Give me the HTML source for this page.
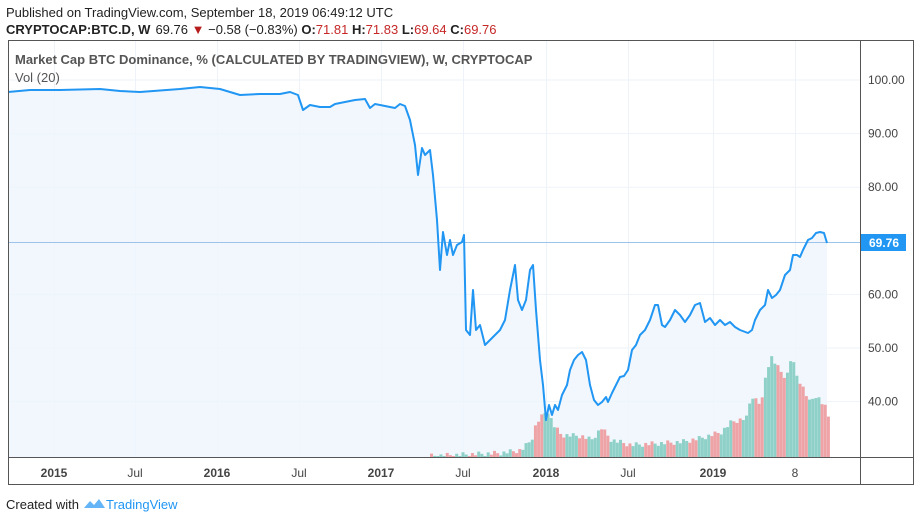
<!DOCTYPE html><html><head><style>
body{margin:0;background:#fff;font-family:"Liberation Sans",sans-serif;}
</style></head><body>
<svg width="920" height="522" xmlns="http://www.w3.org/2000/svg" font-family="Liberation Sans, sans-serif">
<rect width="920" height="522" fill="#fff"/>
<text x="6" y="17" font-size="13" fill="#222">Published on TradingView.com, September 18, 2019 06:49:12 UTC</text>
<text x="6" y="34" font-size="13" fill="#222"><tspan font-weight="bold">CRYPTOCAP:BTC.D, W</tspan><tspan dx="5">69.76</tspan><tspan fill="#b71c1c"> ▼</tspan><tspan> −0.58 (−0.83%) </tspan><tspan font-weight="bold">O:</tspan><tspan fill="#c62828">71.81 </tspan><tspan font-weight="bold">H:</tspan><tspan fill="#c62828">71.83 </tspan><tspan font-weight="bold">L:</tspan><tspan fill="#c62828">69.64 </tspan><tspan font-weight="bold">C:</tspan><tspan fill="#c62828">69.76</tspan></text>
<g stroke="#eef3f9" stroke-width="1" id="grid"></g>
<path id="fill" fill="#eef5fd" opacity="0.8"/>
<g id="vol"></g>
<line x1="8" x2="860" y1="242.5" y2="242.5" stroke="#9cc3ea" stroke-width="1"/>
<polyline id="line" fill="none" stroke="#2196f3" stroke-width="2" stroke-linejoin="round"/>
<rect x="8.5" y="40.5" width="905" height="444" fill="none" stroke="#555" stroke-width="1"/>
<line x1="860.5" x2="860.5" y1="40" y2="485" stroke="#555"/>
<line x1="8" x2="914" y1="457.5" y2="457.5" stroke="#555"/>
<text x="15" y="64" font-size="13" fill="#555" font-weight="bold">Market Cap BTC Dominance, % (CALCULATED BY TRADINGVIEW), W, CRYPTOCAP</text>
<text x="15" y="82" font-size="13" fill="#555">Vol (20)</text>
<g font-size="12" fill="#444" id="yl"></g>
<rect x="861" y="234" width="45" height="17" fill="#2196f3"/>
<text x="869" y="247" font-size="12" fill="#fff" font-weight="bold">69.76</text>
<g font-size="12" fill="#444" text-anchor="middle">
<text x="54" y="477" font-weight="bold">2015</text><text x="135" y="477">Jul</text>
<text x="217" y="477" font-weight="bold">2016</text><text x="299" y="477">Jul</text>
<text x="381" y="477" font-weight="bold">2017</text><text x="463" y="477">Jul</text>
<text x="546" y="477" font-weight="bold">2018</text><text x="628" y="477">Jul</text>
<text x="713" y="477" font-weight="bold">2019</text><text x="795" y="477">8</text>
</g>
<text x="6" y="509" font-size="13" fill="#222">Created with</text>
<path d="M84 508 l6 -7 l4 4 l5 -6 l6 9 z" fill="#2196f3" opacity="0.7"/>
<text x="106" y="509" font-size="13" fill="#2196f3">TradingView</text>
</svg>
<script>
var ns="http://www.w3.org/2000/svg";
function el(t,a,p){var e=document.createElementNS(ns,t);for(var k in a)e.setAttribute(k,a[k]);document.getElementById(p).appendChild(e);return e;}
[54,135,217,299,381,463,546,628,713,795].forEach(function(x){el("line",{x1:x+.5,x2:x+.5,y1:41,y2:457},"grid");});
[100,90,80,60,50,40].forEach(function(v){var y=80+(100-v)*5.36;el("line",{x1:9,x2:860,y1:y,y2:y},"grid");var t=el("text",{x:868,y:y+4},"yl");t.textContent=v.toFixed(2);});
var pts=[[8,92],[30,90],[60,90],[100,89],[120,91],[140,92],[180,89],[200,87],[220,89],[240,95],[260,94],[280,94],[290,92],[298,95],[303,110],[310,105],[320,107],[330,107],[335,104],[345,102],[355,100],[365,99],[370,108],[375,104],[385,106],[395,108],[400,104],[405,106],[410,120],[415,145],[418,175],[422,148],[425,155],[430,150],[433,175],[437,220],[440,270],[443,232],[447,255],[450,240],[453,255],[457,245],[462,242],[464,235],[466,330],[470,335],[473,290],[476,330],[480,325],[485,345],[490,340],[495,335],[500,330],[505,320],[510,290],[515,265],[518,300],[522,310],[526,300],[530,270],[533,265],[536,310],[540,360],[543,385],[546,420],[549,405],[552,415],[555,405],[558,410],[562,395],[567,385],[570,370],[574,360],[578,355],[582,352],[586,360],[590,385],[594,400],[598,405],[602,402],[606,397],[608,402],[612,393],[616,385],[620,377],[624,376],[628,370],[632,350],[636,345],[640,335],[645,330],[650,320],[655,305],[658,305],[662,325],[665,327],[670,320],[675,310],[680,315],[685,322],[690,315],[695,305],[700,303],[705,322],[710,318],[715,325],[720,320],[725,325],[730,322],[735,327],[740,330],[748,333],[752,330],[755,320],[760,310],[765,305],[768,290],[772,298],[776,295],[780,290],[785,275],[790,270],[793,255],[797,255],[800,257],[803,250],[808,240],[812,238],[816,233],[820,232],[824,233],[827,243]];
document.getElementById("line").setAttribute("points",pts.map(function(p){return p.join(",")}).join(" "));
document.getElementById("fill").setAttribute("d","M8,457 L"+pts.map(function(p){return p.join(",")}).join(" L")+" L827,457 Z");
var key=[[430,456],[500,453],[520,450],[530,440],[535,423],[546,410],[552,425],[560,435],[580,436],[590,440],[600,428],[610,440],[630,445],[680,442],[700,438],[720,432],[730,422],[745,418],[750,395],[760,405],[765,370],[770,357],[778,370],[785,378],[790,356],[795,375],[800,384],[808,402],[815,395],[822,405],[826,410],[829,432]];
function ht(x){for(var i=0;i<key.length-1;i++){if(x>=key[i][0]&&x<=key[i+1][0]){var f=(x-key[i][0])/(key[i+1][0]-key[i][0]);return key[i][1]+f*(key[i+1][1]-key[i][1]);}}return 456;}
var i=0;for(var x=430;x<829;x+=3.15,i++){var y=ht(x)+((i*7)%5-2)*1.2;if(y>456)y=456;var red=((i*13)%7)<3;el("rect",{x:x,y:y,width:3,height:457-y,fill:red?"#eea3a6":"#8fd1c8"},"vol");}
</script>
</body></html>
